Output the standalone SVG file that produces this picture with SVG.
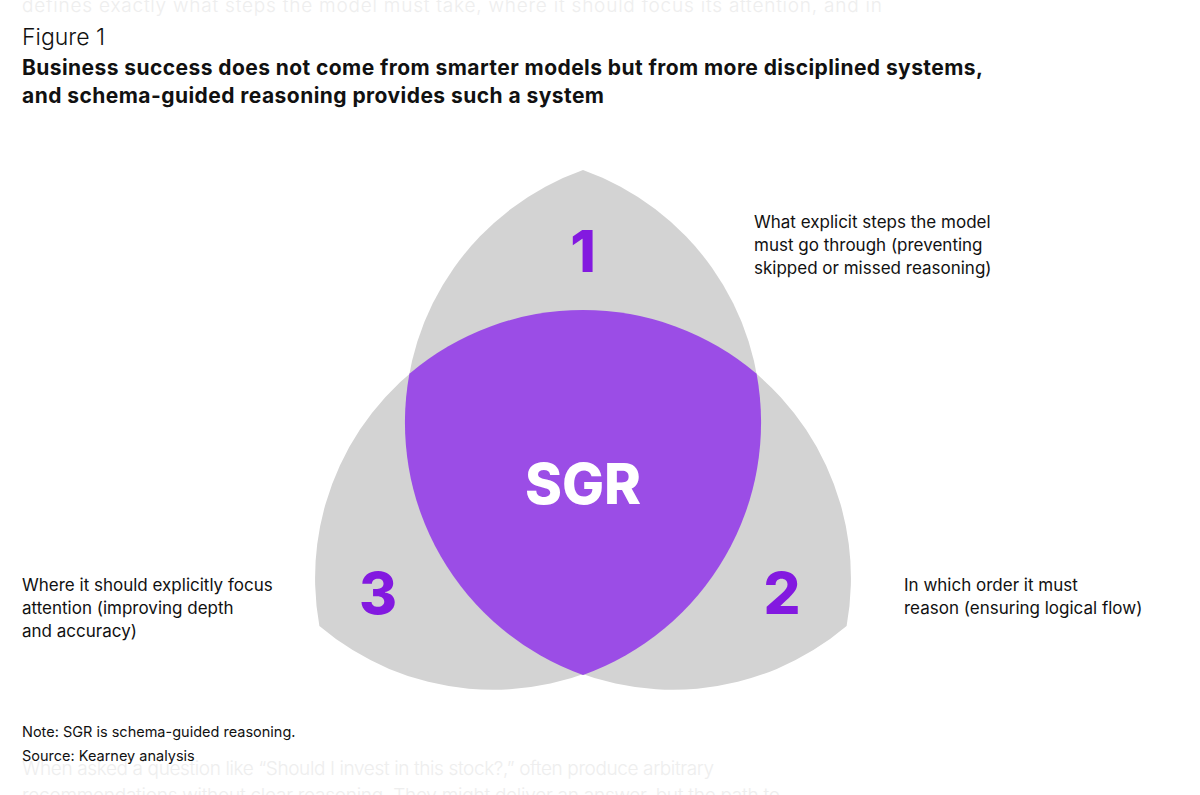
<svg xmlns="http://www.w3.org/2000/svg" width="1200" height="795" viewBox="0 0 1200 795">
<style>
.t{font-family:Inter,"Liberation Sans",sans-serif;fill:#111}
.ghost{font-family:Inter,"Liberation Sans",sans-serif;font-size:19px;fill:#eeeeee;font-weight:300}
.lbl{font-size:17px}
.num{font-family:Inter,"Liberation Sans",sans-serif;font-weight:800;font-size:58px;fill:#8319e0;text-anchor:middle}
.petal{fill:#d3d3d3}
</style>
<rect width="1200" height="795" fill="#fff"/>
<text class="ghost" x="22" y="12" textLength="860">defines exactly what steps the model must take, where it should focus its attention, and in</text>
<text class="ghost" x="22" y="775" textLength="692">When asked a question like “Should I invest in this stock?,” often produce arbitrary</text>
<text class="ghost" x="22" y="802" textLength="758">recommendations without clear reasoning. They might deliver an answer, but the path to</text>
<text class="t" x="22" y="45" font-size="23" font-weight="300">Figure 1</text>
<text class="t" x="22" y="75" font-size="21" font-weight="700" textLength="961">Business success does not come from smarter models but from more disciplined systems,</text>
<text class="t" x="22" y="103" font-size="21" font-weight="700" textLength="582">and schema-guided reasoning provides such a system</text>
<g id="petal1"><path class="petal" d="M583,170 A268,268 0 0 1 583,675 A268,268 0 0 1 583,170 Z"/></g>
<g id="petal2"><path class="petal" d="M409.4,373.8 A268,268 0 0 1 846.6,626 A268,268 0 0 1 409.4,373.8 Z"/></g>
<g id="petal3"><path class="petal" d="M756.6,373.8 A268,268 0 0 1 319.4,626 A268,268 0 0 1 756.6,373.8 Z"/></g>
<g id="center">
<path fill="#9b4de6" d="M409.4,373.8 A268,268 0 0 1 756.6,373.8 A268,268 0 0 1 583,675 A268,268 0 0 1 409.4,373.8 Z"/>
<text x="583" y="504" font-family="Inter,'Liberation Sans',sans-serif" font-weight="800" font-size="56" fill="#fff" text-anchor="middle">SGR</text>
</g>
<g id="n1"><text class="num" x="583" y="272">1</text>
<text class="t lbl" x="754" y="228">What explicit steps the model</text>
<text class="t lbl" x="754" y="251">must go through (preventing</text>
<text class="t lbl" x="754" y="274">skipped or missed reasoning)</text></g>
<g id="n2"><text class="num" x="782" y="614">2</text>
<text class="t lbl" x="904" y="591">In which order it must</text>
<text class="t lbl" x="904" y="614">reason (ensuring logical flow)</text></g>
<g id="n3"><text class="num" x="378" y="614">3</text>
<text class="t lbl" x="22" y="591">Where it should explicitly focus</text>
<text class="t lbl" x="22" y="614">attention (improving depth</text>
<text class="t lbl" x="22" y="637">and accuracy)</text></g>
<g id="connectors"/>
<text class="t" x="22" y="737" font-size="14.5">Note: SGR is schema-guided reasoning.</text>
<text class="t" x="22" y="761" font-size="14.5">Source: Kearney analysis</text>
</svg>
